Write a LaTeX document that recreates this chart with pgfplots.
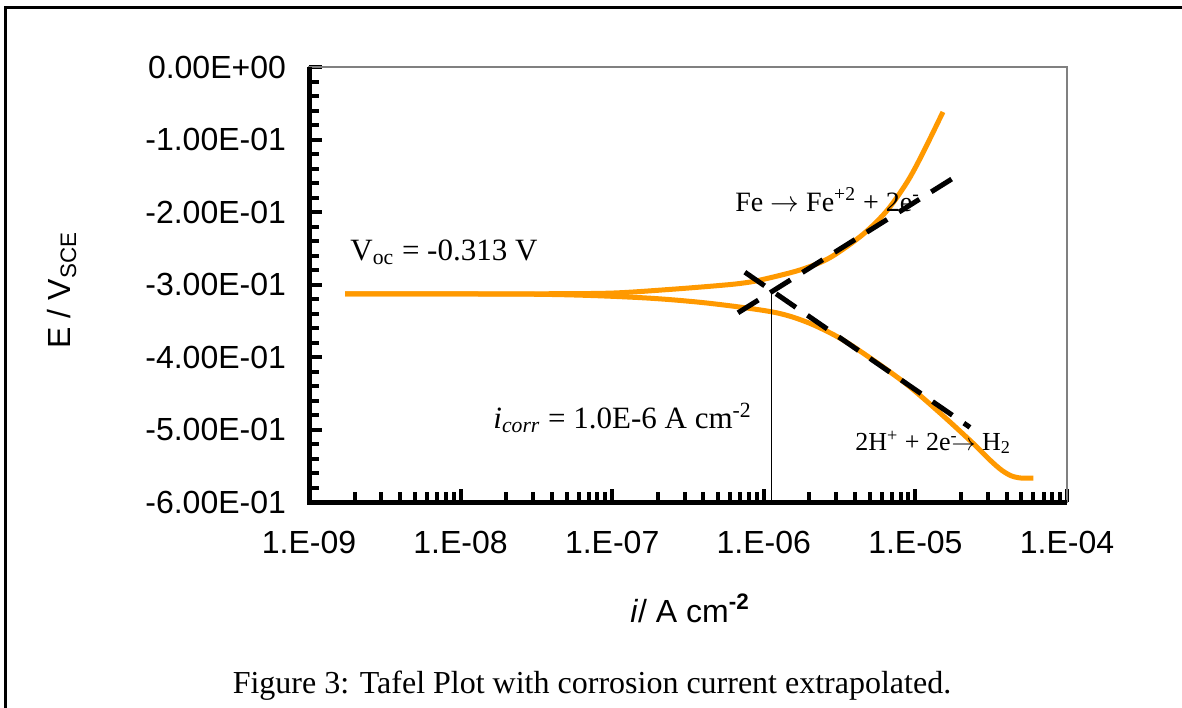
\documentclass[border=0pt]{standalone}
\usepackage{fontspec}
\setmainfont{Liberation Serif}
\newfontfamily\arial{Liberation Sans}
\usepackage{pgfplots}
\pgfplotsset{compat=1.18}
\definecolor{xlorange}{RGB}{255,153,0}
\definecolor{framegray}{RGB}{128,128,128}

\begin{document}
\begin{tikzpicture}
% 1 px of the reference = 0.5pt, origin at top left
\useasboundingbox (0pt,0pt) rectangle (591pt,-353.5pt);
\draw[line width=1.5pt] (2.5pt,-354pt) -- (2.5pt,-3.5pt) -- (592pt,-3.5pt);

\begin{axis}[
    name=ax,
    at={(154.5pt,-251pt)}, anchor=south west,
    scale only axis, width=379pt, height=217.5pt,
    xmode=log, xmin=1e-9, xmax=1e-4,
    ymin=-0.6, ymax=0,
    xtick={1e-9,1e-8,1e-7,1e-6,1e-5,1e-4},
    xticklabels={1.E-09,1.E-08,1.E-07,1.E-06,1.E-05,1.E-04},
    ytick={-0.6,-0.5,-0.4,-0.3,-0.2,-0.1,0},
    yticklabels={-6.00E-01,-5.00E-01,-4.00E-01,-3.00E-01,-2.00E-01,-1.00E-01,0.00E+00},
    minor y tick num=4,
    tick pos=left, tick align=inside,
    major tick length=6.5pt, minor tick length=5pt,
    every tick/.style={black, line width=2pt},
    axis line style={framegray, line width=1pt},
    ticklabel style={font=\arial\fontsize{16}{19}\selectfont},
    xticklabel style={yshift=-11pt},
    yticklabel style={xshift=-8pt},
]
    % anodic branch
    \addplot[xlorange, line width=2.5pt, smooth] coordinates {
        (1.73e-9,-0.313) (1e-8,-0.313) (3.3e-8,-0.3128) (1e-7,-0.3118)
        (2.5e-7,-0.3065) (5e-7,-0.3015) (7e-7,-0.2985) (9.4e-7,-0.294)
        (1.73e-6,-0.280) (2.73e-6,-0.263) (4.5e-6,-0.231) (6.5e-6,-0.198)
        (8.8e-6,-0.159) (1.1e-5,-0.122) (1.52e-5,-0.062)
    };
    % cathodic branch
    \addplot[xlorange, line width=2.5pt, smooth] coordinates {
        (1.73e-9,-0.313) (3.3e-8,-0.3135) (1.5e-7,-0.318) (4.2e-7,-0.3255)
        (1.15e-6,-0.338) (1.93e-6,-0.352) (3.18e-6,-0.374) (5.25e-6,-0.404)
        (8.8e-6,-0.438) (1.45e-5,-0.477) (2.4e-5,-0.519) (3.1e-5,-0.542)
        (3.7e-5,-0.556) (4.3e-5,-0.564) (5e-5,-0.567) (6e-5,-0.567)
    };
    % Tafel extrapolations
    \addplot[black, line width=2.5pt, dash pattern=on 12pt off 7pt] coordinates {
        (6.76e-7,-0.339) (1.88e-5,-0.150)
    };
    \addplot[black, line width=2.5pt, dash pattern=on 12pt off 7pt] coordinates {
        (7.5e-7,-0.283) (2.29e-5,-0.497)
    };
    % i_corr
    \addplot[black, line width=0.75pt] coordinates {
        (1.12e-6,-0.6) (1.12e-6,-0.310)
    };
\end{axis}
\draw[black, line width=2.5pt] (ax.north west) -- (ax.south west) -- (ax.south east);

\begin{scope}[x=0.5pt, y=-0.5pt]
    \node[anchor=base west, inner sep=0, font=\fontsize{15.5}{18}\selectfont]
        at (350,260) {V\textsubscript{oc} = -0.313 V};
    \node[anchor=base west, inner sep=0, font=\fontsize{14}{16}\selectfont]
        at (735,211) {Fe $\rightarrow$ Fe\textsuperscript{+2} + 2e\textsuperscript{-}};
    \node[anchor=base west, inner sep=0, font=\fontsize{15.5}{18}\selectfont]
        at (493,428) {\textit{i}\textsubscript{\textit{corr}} = 1.0E-6 A cm\textsuperscript{-2}};
    \node[anchor=base west, inner sep=0, font=\fontsize{13}{15}\selectfont]
        at (855,450) {2H\textsuperscript{+} + 2e\textsuperscript{-}\kern-3pt$\rightarrow$ H\textsubscript{2}};
    \node[rotate=90, inner sep=0, font=\arial\fontsize{16}{19}\selectfont]
        at (62,290) {E / V\textsubscript{SCE}};
    \node[anchor=base, inner sep=0, font=\arial\fontsize{16}{19}\selectfont]
        at (690,622) {\textit{i}/ A cm\textsuperscript{\bfseries -2}};
    \node[anchor=base, inner sep=0, font=\fontsize{16}{19}\selectfont]
        at (592,693) {Figure 3: Tafel Plot with corrosion current extrapolated.};
\end{scope}
\end{tikzpicture}
\end{document}
